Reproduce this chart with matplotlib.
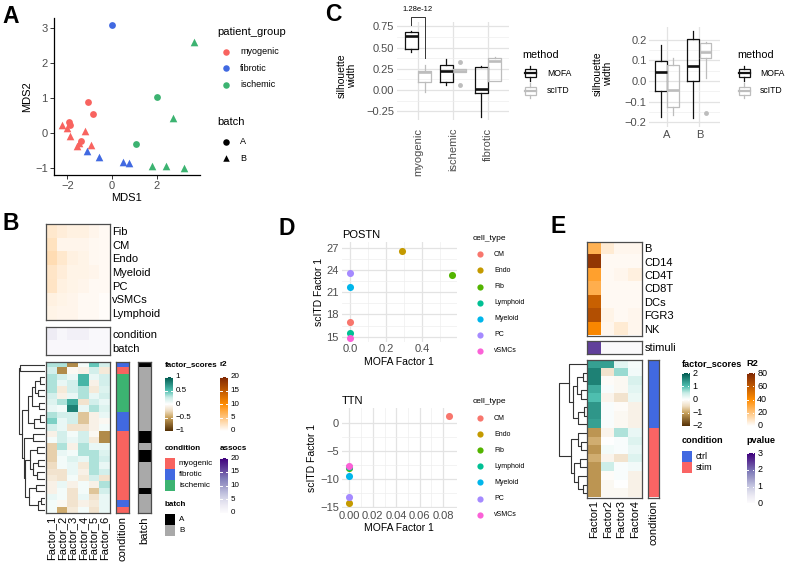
import numpy as np
import matplotlib
matplotlib.use('Agg')
import matplotlib.pyplot as plt
from matplotlib.colors import LinearSegmentedColormap, ListedColormap
from matplotlib.patches import Rectangle

plt.rcParams['font.family'] = ['Liberation Sans', 'DejaVu Sans']
plt.rcParams['axes.unicode_minus'] = True

# ================= DATA =================
# Panel A (MDS)
mds1 = [0.0, 3.68, 2.0, -1.09, -0.84, 2.75, -1.93, -2.26, -1.9, -2.0, -1.2, -1.86,
        -1.4, -1.5, -1.55, -0.96, 1.07, -1.12, -0.57, 0.5, 0.77, 1.79, 2.41, 3.22]
mds2 = [3.08, 2.6, 1.03, 0.87, 0.55, 0.42, 0.32, 0.22, 0.22, 0.15, 0.05, -0.10,
        -0.22, -0.28, -0.36, -0.33, -0.32, -0.51, -0.69, -0.82, -0.87, -0.94, -0.95, -0.99]
mds_group = ['fibrotic', 'ischemic', 'ischemic', 'myogenic', 'myogenic', 'ischemic',
             'myogenic', 'myogenic', 'myogenic', 'myogenic', 'myogenic', 'myogenic',
             'myogenic', 'myogenic', 'myogenic', 'myogenic', 'ischemic', 'fibrotic',
             'fibrotic', 'fibrotic', 'fibrotic', 'ischemic', 'ischemic', 'ischemic']
mds_batch = ['A', 'B', 'A', 'A', 'A', 'B', 'A', 'B', 'A', 'B', 'B', 'B',
             'A', 'B', 'B', 'B', 'A', 'B', 'B', 'B', 'B', 'B', 'B', 'B']
groups = ['myogenic', 'fibrotic', 'ischemic']
group_colors = {'myogenic': '#F8635F', 'fibrotic': '#4169E1', 'ischemic': '#3CB371'}

# Panel C (silhouette widths by patient group)
c_groups = ['myogenic', 'ischemic', 'fibrotic']
c_mofa_q1 = [0.485, 0.093, -0.03]
c_mofa_med = [0.63, 0.23, 0.016]
c_mofa_q3 = [0.68, 0.29, 0.27]
c_mofa_lo = [0.45, 0.055, -0.32]
c_mofa_hi = [0.70, 0.37, 0.28]
c_scitd_q1 = [0.09, 0.21, 0.105]
c_scitd_med = [0.21, 0.23, 0.345]
c_scitd_q3 = [0.23, 0.25, 0.38]
c_scitd_lo = [-0.02, 0.21, 0.105]
c_scitd_hi = [0.30, 0.25, 0.39]
c_scitd_out = [[], [0.33, 0.055], []]
c_pval = '1.28e-12'
c_bracket = [0.86, 0.76, 0.38]   # bracket top, left tip, right tip

# Panel C (silhouette widths by batch)
c2_groups = ['A', 'B']
c2_mofa_q1 = [-0.05, 0.0]
c2_mofa_med = [0.045, 0.07]
c2_mofa_q3 = [0.095, 0.205]
c2_mofa_lo = [-0.175, -0.18]
c2_mofa_hi = [0.175, 0.24]
c2_scitd_q1 = [-0.127, 0.11]
c2_scitd_med = [-0.045, 0.14]
c2_scitd_q3 = [0.077, 0.185]
c2_scitd_lo = [-0.165, 0.015]
c2_scitd_hi = [0.11, 0.19]
c2_scitd_out = [[], [-0.155]]

# Panel B (heatmaps)
b_factors = ['Factor_1', 'Factor_2', 'Factor_3', 'Factor_4', 'Factor_5', 'Factor_6']
b_r2_rows = ['Fib', 'CM', 'Endo', 'Myeloid', 'PC', 'vSMCs', 'Lymphoid']
b_r2 = [[2.0, 1.5, 1.2, 1.2, 0.8, 0.5],
        [2.5, 0.8, 0.8, 0.8, 0.6, 0.5],
        [3.0, 2.0, 1.2, 1.0, 0.6, 0.5],
        [2.2, 1.5, 1.0, 1.0, 0.8, 0.5],
        [2.3, 1.2, 1.0, 0.8, 0.5, 0.5],
        [1.2, 1.0, 0.8, 0.5, 0.5, 0.3],
        [1.0, 0.8, 0.8, 0.5, 0.5, 0.3]]
b_assoc_rows = ['condition', 'batch']
b_assoc = [[2.5, 0.8, 1.8, 1.8, 0.4, 0.4],
           [0.6, 0.6, 0.6, 0.6, 0.5, 0.5]]
b_scores = [[0.3, 0.3, -0.6, 0.05, 0.45, 0.2],
            [0.2, -0.6, -0.05, -0.1, 0.2, -0.15],
            [0.3, 0.2, 0.1, 0.55, 0.1, 0.2],
            [0.3, 0.1, 0.2, 0.55, -0.1, 0.2],
            [0.3, -0.15, 0.2, 0.3, -0.15, 0.15],
            [0.2, -0.1, 0.1, 0.3, 0.1, 0.2],
            [0.15, 0.3, 0.6, -0.2, 0.2, 0.1],
            [0.1, 0.05, 0.8, 0.1, 0.3, 0.15],
            [0.3, 0.2, 0.2, -0.35, -0.1, 0.1],
            [0.4, 0.1, 0.2, -0.35, -0.1, -0.05],
            [0.2, 0.1, -0.2, -0.2, -0.1, 0.05],
            [-0.1, 0.2, 0.05, 0.2, -0.05, -0.6],
            [0.05, 0.2, 0.1, 0.2, -0.15, -0.6],
            [-0.3, 0.3, -0.1, 0.3, 0.1, 0.1],
            [-0.3, 0.1, 0.05, 0.3, 0.3, 0.15],
            [-0.3, 0.05, 0.15, 0.1, 0.3, 0.2],
            [-0.25, 0.05, 0.1, -0.15, 0.3, 0.1],
            [-0.2, -0.2, 0.1, -0.1, 0.3, 0.2],
            [-0.15, -0.2, 0.05, -0.15, 0.2, -0.2],
            [-0.1, 0.1, -0.1, 0.05, -0.1, 0.3],
            [-0.1, 0.05, -0.2, 0.05, -0.35, 0.2],
            [0.1, 0.05, -0.2, 0.1, -0.2, 0.1],
            [0.05, -0.05, -0.2, -0.1, -0.15, 0.1],
            [0.05, -0.45, -0.15, 0.05, -0.2, 0.1]]
b_condition = ['fibrotic', 'myogenic'] + ['ischemic'] * 6 + ['fibrotic'] * 3 + \
              ['myogenic'] * 11 + ['fibrotic', 'myogenic']
b_batch = ['A', 'B', 'B', 'B', 'B', 'B', 'B', 'B', 'B', 'B', 'B', 'A',
           'A', 'B', 'A', 'A', 'B', 'B', 'B', 'B', 'A', 'B', 'B', 'B']
b_tree = (1.0,
          (0.93, 0, 1),
          (0.87,
           (0.63,
            (0.5, (0.36, (0.2, 2, 3), (0.27, 4, 5)), (0.23, 6, 7)),
            (0.4, (0.2, 8, 9), 10)),
           (0.8,
            (0.45, 11, 12),
            (0.75,
             (0.55, (0.3, 13, 14), (0.45, (0.25, 15, 16), (0.3, 17, 18))),
             (0.6, (0.35, 19, 20), (0.25, (0.15, 21, 22), 23))))))

# Panel D
cell_types = ['CM', 'Endo', 'Fib', 'Lymphoid', 'Myeloid', 'PC', 'vSMCs']
cell_colors = ['#F8766D', '#C49A00', '#53B400', '#00C094', '#00B6EB', '#A58AFF', '#FB61D7']
postn_mofa = [0.0, 0.29, 0.565, 0.0, 0.0, 0.0, 0.0]
postn_scitd = [16.95, 26.6, 23.4, 15.5, 21.8, 23.6, 14.8]
ttn_mofa = [0.0849, 0.0, 0.0, 0.0, 0.0, 0.0, 0.0]
ttn_scitd = [1.35, -14.3, -8.0, -7.9, -9.4, -13.2, -7.75]

# Panel E
e_factors = ['Factor1', 'Factor2', 'Factor3', 'Factor4']
e_r2_rows = ['B', 'CD14', 'CD4T', 'CD8T', 'DCs', 'FGR3', 'NK']
e_r2 = [[27, 7, 3, 3],
        [74, 2, 2, 2],
        [33, 2, 3, 5],
        [28, 2, 2, 2],
        [57, 2, 2, 2],
        [64, 4, 2, 3],
        [42, 3, 7, 3]]
e_stim_rows = ['stimuli']
e_stim = [[2.4, 0.05, 0.05, 0.05]]
e_scores = [[1.3, 1.3, 0.25, 0.08],
            [1.6, -0.4, 0.7, 0.12],
            [1.6, -0.05, -0.1, 0.35],
            [1.2, 0.05, -0.1, 0.25],
            [1.0, -0.15, -0.4, 0.18],
            [1.4, 0.05, -0.05, -0.2],
            [1.4, 0.05, -0.1, -0.2],
            [1.3, 0.05, -0.1, -0.2],
            [-1.1, -0.15, 0.6, 0.2],
            [-0.9, 0.0, 0.05, 0.3],
            [-1.1, 0.1, 0.05, 0.2],
            [-0.9, -0.15, -0.4, 0.3],
            [-1.1, 0.45, 0.05, 0.12],
            [-1.1, -0.05, 0.05, -0.2],
            [-1.1, -0.1, 0.0, -0.2],
            [-1.1, -0.1, -0.1, -0.2]]
e_condition = ['ctrl'] * 8 + ['stim'] * 8
e_tree = (1.0,
          (0.62, 0, (0.5, (0.35, (0.15, 1, 2), (0.2, 3, 4)), (0.3, (0.1, 5, 6), 7))),
          (0.58, (0.3, 8, (0.2, 9, 10)), (0.45, (0.25, 11, 12), (0.3, 13, (0.15, 14, 15)))))
e_cond_colors = {'ctrl': '#4169E1', 'stim': '#FA6464'}
batch_colors = {'A': '#000000', 'B': '#A9A9A9'}

# ================= FIGURE =================
W, H = 785, 563
fig = plt.figure(figsize=(W / 100, H / 100), dpi=100)


def box(x0, y0, x1, y1):
    return fig.add_axes([x0 / W, 1 - y1 / H, (x1 - x0) / W, (y1 - y0) / H])


ov = fig.add_axes([0, 0, 1, 1])
ov.set_xlim(0, W)
ov.set_ylim(H, 0)
ov.axis('off')
ov.set_zorder(20)

GRAY30 = '#4D4D4D'

fs_cmap = LinearSegmentedColormap.from_list(
    'fs', [(0, '#543005'), (0.25, '#C9A25C'), (0.375, '#EFDDC2'), (0.5, '#FFFFFF'),
           (0.625, '#C8ECE6'), (0.75, '#4FC0B1'), (1, '#00594F')])
r2_cmap = LinearSegmentedColormap.from_list('r2', [(0, '#FFFFFF'), (0.5, '#FF8C00'), (1, '#7F2704')])
pur_cmap = plt.get_cmap('Purples')

# panel letters
for lx, ly, s in [(2, 23.3, 'A'), (2, 230, 'B'), (325, 20.7, 'C'), (278, 235, 'D'), (550, 233.3, 'E')]:
    ov.text(lx, ly, s, fontsize=16.5, fontweight='bold', va='baseline', ha='left')

# ---------------- Panel A ----------------
axA = box(54, 18, 200, 175)
for g in groups:
    for b, mk, sz in [('A', 'o', 24), ('B', '^', 30)]:
        xs = [x for x, gg, bb in zip(mds1, mds_group, mds_batch) if gg == g and bb == b]
        ys = [y for y, gg, bb in zip(mds2, mds_group, mds_batch) if gg == g and bb == b]
        axA.scatter(xs, ys, s=sz, marker=mk, color=group_colors[g], linewidths=0)
axA.set_xlim(-2.6, 3.95)
axA.set_ylim(-1.2, 3.28)
axA.set_xticks([-2, 0, 2])
axA.set_yticks([-1, 0, 1, 2, 3])
for sp in ['top', 'right']:
    axA.spines[sp].set_visible(False)
for sp in ['left', 'bottom']:
    axA.spines[sp].set_linewidth(0.9)
axA.tick_params(length=3, width=0.7, color='#333333', labelsize=8, labelcolor=GRAY30, pad=1.5)
axA.set_xlabel('MDS1', fontsize=8, labelpad=1)
axA.set_ylabel('MDS2', fontsize=8, labelpad=2)

ov.text(217, 32.3, 'patient_group', fontsize=8, va='center')
for i, g in enumerate(groups):
    yy = 51.5 + 16.7 * i
    ov.scatter([226], [yy], s=22, color=group_colors[g], linewidths=0)
    ov.text(240, yy, g, fontsize=6.5, va='center')
ov.text(217, 121.7, 'batch', fontsize=8, va='center')
for i, (b, mk) in enumerate([('A', 'o'), ('B', '^')]):
    yy = 141.7 + 16.6 * i
    ov.scatter([226], [yy], s=22, color='black', marker=mk, linewidths=0)
    ov.text(240, yy, b, fontsize=6.5, va='center')


# ---------------- Panel C ----------------
def stats(q1, med, q3, lo, hi, out):
    return [dict(q1=a, med=m, q3=c, whislo=l, whishi=h, fliers=o)
            for a, m, c, l, h, o in zip(q1, med, q3, lo, hi, out)]


def style_minimal(ax, major_y, minor_y):
    for sp in ax.spines.values():
        sp.set_visible(False)
    ax.set_yticks(major_y)
    ax.set_yticks(minor_y, minor=True)
    ax.grid(True, which='major', color='#E3E3E3', lw=0.9)
    ax.grid(True, which='minor', axis='y', color='#EEEEEE', lw=0.5)
    ax.set_axisbelow(True)
    ax.tick_params(which='both', length=0, labelsize=8, labelcolor=GRAY30, pad=2)


def draw_boxes(ax, pos, st, col, lw):
    ax.bxp(st, positions=pos, widths=0.36, showcaps=False, showfliers=True,
           boxprops=dict(color=col, lw=lw), whiskerprops=dict(color=col, lw=lw),
           medianprops=dict(color=col, lw=1.9),
           flierprops=dict(marker='o', markerfacecolor=col, markeredgecolor='none', markersize=3.5),
           manage_ticks=False)


MOFA_C, SCITD_C = '#111111', '#BDBDBD'
axC1 = box(397, 22, 509, 119.5)
pos = np.arange(1, len(c_groups) + 1)
style_minimal(axC1, [-0.25, 0, 0.25, 0.5, 0.75], [-0.125, 0.125, 0.375, 0.625])
draw_boxes(axC1, pos - 0.19, stats(c_mofa_q1, c_mofa_med, c_mofa_q3, c_mofa_lo, c_mofa_hi, [[]] * 3), MOFA_C, 0.9)
draw_boxes(axC1, pos + 0.19, stats(c_scitd_q1, c_scitd_med, c_scitd_q3, c_scitd_lo, c_scitd_hi, c_scitd_out), SCITD_C, 0.9)
axC1.set_xlim(0.4, 3.6)
axC1.set_ylim(-0.345, 0.80)
axC1.set_xticks(pos)
axC1.set_xticklabels(c_groups, rotation=90, fontsize=8, va='top')
axC1.set_yticklabels(['\u22120.25', '0.00', '0.25', '0.50', '0.75'])
axC1.tick_params(axis='x', pad=6)
bx0, bx1 = pos[0] - 0.19, pos[0] + 0.19
axC1.plot([bx0, bx0, bx1, bx1], [c_bracket[1], c_bracket[0], c_bracket[0], c_bracket[2]],
          color='#333333', lw=0.7, clip_on=False)
axC1.text(pos[0], c_bracket[0] + 0.04, c_pval, fontsize=5.5, ha='center', va='bottom', clip_on=False)
ov.text(347, 75.5, 'silhouette\nwidth', rotation=90, fontsize=7.5, ha='center', va='center',
        linespacing=0.95)

axC2 = box(649.3, 26.7, 720.5, 127)
pos2 = np.arange(1, len(c2_groups) + 1)
style_minimal(axC2, [-0.2, -0.1, 0.0, 0.1, 0.2], [-0.15, -0.05, 0.05, 0.15])
draw_boxes(axC2, pos2 - 0.19, stats(c2_mofa_q1, c2_mofa_med, c2_mofa_q3, c2_mofa_lo, c2_mofa_hi, [[]] * 2), MOFA_C, 0.9)
draw_boxes(axC2, pos2 + 0.19, stats(c2_scitd_q1, c2_scitd_med, c2_scitd_q3, c2_scitd_lo, c2_scitd_hi, c2_scitd_out), SCITD_C, 0.9)
axC2.set_xlim(0.45, 2.65)
axC2.set_ylim(-0.222, 0.262)
axC2.set_xticks(pos2)
axC2.set_xticklabels(c2_groups, fontsize=8)
axC2.set_yticklabels(['\u22120.2', '\u22120.1', '0.0', '0.1', '0.2'])
ov.text(603, 74, 'silhouette\nwidth', rotation=90, fontsize=7.5, ha='center', va='center',
        linespacing=0.95)


def box_key(xc, yc, col):
    ov.add_patch(Rectangle((xc - 5.5, yc - 4), 11, 8, fill=False, edgecolor=col, lw=0.9))
    ov.plot([xc - 5.5, xc + 5.5], [yc, yc], color=col, lw=1.6)
    ov.plot([xc, xc], [yc - 4, yc - 7.5], color=col, lw=0.9)
    ov.plot([xc, xc], [yc + 4, yc + 7.5], color=col, lw=0.9)


for (tx, kx, lx) in [(522, 530, 547), (737, 744, 760)]:
    ov.text(tx, 55, 'method', fontsize=7.8, va='center')
    box_key(kx, 73, MOFA_C)
    ov.text(lx, 73, 'MOFA', fontsize=6.2, va='center')
    box_key(kx, 90.5, SCITD_C)
    ov.text(lx, 90.5, 'scITD', fontsize=6.2, va='center')


# ---------------- heatmap helpers ----------------
def style_heat(ax):
    ax.set_xticks([])
    ax.set_yticks([])
    for sp in ax.spines.values():
        sp.set_color('#4D4D4D')
        sp.set_linewidth(0.9)


def heat(ax, data, cmap, vmin, vmax, row_labels=None, col_labels=None):
    ax.imshow(np.asarray(data, dtype=float), aspect='auto', cmap=cmap, vmin=vmin, vmax=vmax,
              interpolation='nearest')
    style_heat(ax)
    if row_labels is not None:
        ax.yaxis.tick_right()
        ax.set_yticks(range(len(row_labels)))
        ax.set_yticklabels(row_labels, fontsize=8)
        ax.tick_params(axis='y', length=0, pad=2)
    if col_labels is not None:
        ax.set_xticks(range(len(col_labels)))
        ax.set_xticklabels(col_labels, rotation=90, fontsize=8)
        ax.tick_params(axis='x', length=0, pad=2)


def anno(ax, values, cmap_dict, label):
    keys = list(cmap_dict.keys())
    codes = np.array([[keys.index(v)] for v in values])
    ax.imshow(codes, aspect='auto', cmap=ListedColormap([cmap_dict[k] for k in keys]),
              vmin=-0.5, vmax=len(keys) - 0.5, interpolation='nearest')
    style_heat(ax)
    ax.set_xticks([0])
    ax.set_xticklabels([label], rotation=90, fontsize=8)
    ax.tick_params(axis='x', length=0, pad=2)


def dendro(ax, tree, n):
    def rec(node):
        if isinstance(node, int):
            return node + 0.5, 0.0
        h, l, r = node
        yl, hl = rec(l)
        yr, hr = rec(r)
        ax.plot([hl, h, h, hr], [yl, yl, yr, yr], color='#333333', lw=0.8)
        return (yl + yr) / 2, h
    rec(tree)
    ax.set_ylim(n, 0)
    ax.set_xlim(1.02, 0)
    ax.axis('off')


def cbar(x0, y0, y1, cmap, vmin, vmax, ticks, labels, fs=6.5, w=7.5):
    ax = box(x0, y0, x0 + w, y1)
    ax.imshow(np.linspace(vmax, vmin, 256)[:, None], aspect='auto', cmap=cmap, vmin=vmin, vmax=vmax,
              extent=[0, 1, vmin, vmax])
    ax.set_xlim(0, 1)
    ax.set_ylim(vmin, vmax)
    ax.axis('off')
    for t, lab in zip(ticks, labels):
        ax.plot([0, 0.22], [t, t], color='white', lw=0.7)
        ax.plot([0.78, 1], [t, t], color='white', lw=0.7)
        yp = y1 - (t - vmin) / (vmax - vmin) * (y1 - y0)
        ov.text(x0 + w + 3, yp, lab, fontsize=fs, va='center')


def swatches(x0, y0, items, colors, fs=6.5, step=11):
    for i, (it, c) in enumerate(zip(items, colors)):
        ov.add_patch(Rectangle((x0, y0 + step * i), 10, step, facecolor=c, edgecolor='none'))
        ov.text(x0 + 14, y0 + step * i + step / 2, it, fontsize=fs, va='center')


# ---------------- Panel B ----------------
HX0, HX1 = 46, 109.5
heat(box(HX0, 224, HX1, 320), b_r2, r2_cmap, 0, 20, row_labels=b_r2_rows)
heat(box(HX0, 326.7, HX1, 355), b_assoc, pur_cmap, 0, 20, row_labels=b_assoc_rows)
heat(box(HX0, 361.7, HX1, 513.3), b_scores, fs_cmap, -1, 1, col_labels=b_factors)
anno(box(116, 361.7, 129, 513.3), b_condition, group_colors, 'condition')
anno(box(137.5, 361.7, 150.5, 513.3), b_batch, batch_colors, 'batch')
dendro(box(18, 361.7, 45, 513.3), b_tree, len(b_scores))

BF = 5.8
ov.text(165, 365, 'factor_scores', fontsize=BF, fontweight='bold', va='center')
cbar(165, 377, 431, fs_cmap, -1, 1, [1, 0.5, 0, -0.5, -1], ['1', '0.5', '0', '\u22120.5', '\u22121'], fs=BF)
ov.text(220, 365, 'r2', fontsize=BF, fontweight='bold', va='center')
cbar(220, 377, 431, r2_cmap, 0, 20, [20, 15, 10, 5, 0], ['20', '15', '10', '5', '0'], fs=BF)
ov.text(165, 448, 'condition', fontsize=BF, fontweight='bold', va='center')
swatches(165, 458, groups, [group_colors[g] for g in groups], fs=BF)
ov.text(220, 448, 'assocs', fontsize=BF, fontweight='bold', va='center')
cbar(220, 458, 513, pur_cmap, 0, 20, [20, 15, 10, 5, 0], ['20', '15', '10', '5', '0'], fs=BF)
ov.text(165, 505, 'batch', fontsize=BF, fontweight='bold', va='center')
swatches(165, 514, ['A', 'B'], [batch_colors['A'], batch_colors['B']], fs=BF)


# ---------------- Panel D ----------------
def scatter_panel(ax, xs, ys, xlim, ylim, xt, xminor, yt, yminor, xlabels, ylabels, title):
    for x, y, c in zip(xs, ys, cell_colors):
        ax.scatter([x], [y], s=26, color=c, linewidths=0, zorder=3)
    for sp in ax.spines.values():
        sp.set_visible(False)
    ax.set_xlim(*xlim)
    ax.set_ylim(*ylim)
    ax.set_xticks(xt)
    ax.set_xticks(xminor, minor=True)
    ax.set_yticks(yt)
    ax.set_yticks(yminor, minor=True)
    ax.set_xticklabels(xlabels)
    ax.set_yticklabels(ylabels)
    ax.grid(True, which='major', color='#E3E3E3', lw=0.9)
    ax.grid(True, which='minor', color='#EEEEEE', lw=0.5)
    ax.set_axisbelow(True)
    ax.tick_params(which='both', length=0, labelsize=8, labelcolor=GRAY30, pad=2)
    ax.set_xlabel('MOFA Factor 1', fontsize=7.5, labelpad=1.5)
    ax.set_ylabel('scITD Factor 1', fontsize=7.5, labelpad=2)
    ax.set_title(title, fontsize=8, loc='left', pad=3)


axD1 = box(341.7, 241.7, 456.7, 341.7)
scatter_panel(axD1, postn_mofa, postn_scitd, (-0.046, 0.593), (14.3, 27.9),
              [0, 0.2, 0.4], [0.1, 0.3, 0.5], [15, 18, 21, 24, 27], [16.5, 19.5, 22.5, 25.5],
              ['0.0', '0.2', '0.4'], ['15', '18', '21', '24', '27'], 'POSTN')
axD2 = box(341.7, 408, 456.7, 508)
scatter_panel(axD2, ttn_mofa, ttn_scitd, (-0.0065, 0.0915), (-15.2, 2.7),
              [0, 0.02, 0.04, 0.06, 0.08], [0.01, 0.03, 0.05, 0.07], [-15, -10, -5, 0],
              [-12.5, -7.5, -2.5],
              ['0.00', '0.02', '0.04', '0.06', '0.08'], ['\u221215', '\u221210', '\u22125', '0'], 'TTN')

for ty in [238, 401.7]:
    ov.text(473, ty, 'cell_type', fontsize=6, va='center')
    for i, (ct, c) in enumerate(zip(cell_types, cell_colors)):
        yy = ty + 16.3 + 16.1 * i
        ov.scatter([480], [yy], s=20, color=c, linewidths=0)
        ov.text(494, yy, ct, fontsize=5, va='center')

# ---------------- Panel E ----------------
EX0, EX1 = 587.3, 641.5
heat(box(EX0, 241.5, EX1, 335.5), e_r2, r2_cmap, 0, 80, row_labels=e_r2_rows)
heat(box(EX0, 340.5, EX1, 354), e_stim, pur_cmap, 0, 3, row_labels=e_stim_rows)
heat(box(EX0, 360, EX1, 497.5), e_scores, fs_cmap, -2, 2, col_labels=e_factors)
anno(box(648.3, 360, 659.3, 497.5), e_condition, e_cond_colors, 'condition')
dendro(box(558, 360, 587, 497.5), e_tree, len(e_scores))

ov.text(681.7, 364, 'factor_scores', fontsize=6.6, fontweight='bold', va='center')
cbar(681.7, 373.3, 425.7, fs_cmap, -2, 2, [2, 1, 0, -1, -2], ['2', '1', '0', '\u22121', '\u22122'])
ov.text(746.7, 364, 'R2', fontsize=6.6, fontweight='bold', va='center')
cbar(746.7, 373.3, 425.7, r2_cmap, 0, 80, [80, 60, 40, 20, 0], ['80', '60', '40', '20', '0'])
ov.text(681.7, 440.7, 'condition', fontsize=6.6, fontweight='bold', va='center')
swatches(681.7, 451, ['ctrl', 'stim'], [e_cond_colors['ctrl'], e_cond_colors['stim']])
ov.text(746.7, 440.7, 'pvalue', fontsize=6.6, fontweight='bold', va='center')
cbar(746.7, 453.3, 503.3, pur_cmap, 0, 3, [3, 2, 1, 0], ['3', '2', '1', '0'])

fig.savefig('out.png', dpi=100)
